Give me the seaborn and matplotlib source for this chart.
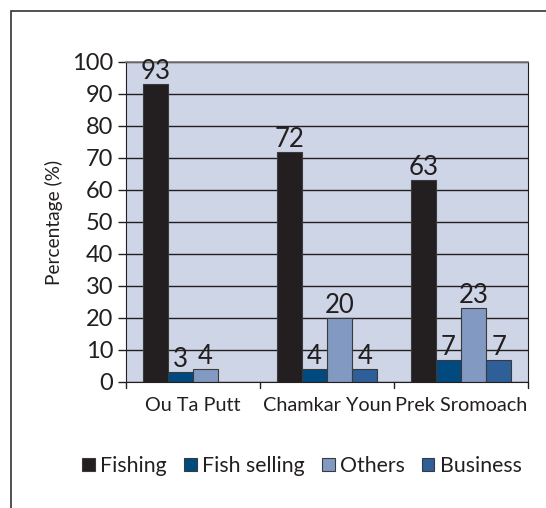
import matplotlib
matplotlib.use("Agg")
import matplotlib.pyplot as plt
import seaborn as sns
import pandas as pd
import numpy as np
from matplotlib.patches import Rectangle

categories = ["Ou Ta Putt", "Chamkar Youn", "Prek Sromoach"]
series = ["Fishing", "Fish selling", "Others", "Business"]
fishing = [93, 72, 63]
fish_selling = [3, 4, 7]
others = [4, 20, 23]
business = [np.nan, 4, 7]
colors = ["#231F20", "#004A80", "#8299C2", "#2E5F98"]
yticks = [0, 10, 20, 30, 40, 50, 60, 70, 80, 90, 100]

rows = []
for name, vals in zip(series, [fishing, fish_selling, others, business]):
    for c, v in zip(categories, vals):
        rows.append({"cat": c, "series": name, "val": v})
df = pd.DataFrame(rows)

sns.set_style("white")
plt.rcParams["font.family"] = ["Lato", "DejaVu Sans"]

fig = plt.figure(figsize=(5.46, 5.08), dpi=100)
fig.patches.append(Rectangle((11 / 546, -0.1), 1.2, (508 - 11) / 508 + 0.1,
                             transform=fig.transFigure, fill=False,
                             edgecolor="#333333", linewidth=1.2))
ax = fig.add_axes([126 / 546, 1 - 382 / 508, (528 - 126) / 546, (382 - 62) / 508])
ax.set_facecolor("#CED5E6")

sns.barplot(data=df, x="cat", y="val", hue="series", hue_order=series,
            order=categories, palette=colors, width=0.75, ax=ax,
            edgecolor="#3a3a3a", linewidth=0.8, saturation=1, legend=True)

for cont in ax.containers:
    labels = ["" if np.isnan(v) else f"{v:.0f}" for v in cont.datavalues]
    ax.bar_label(cont, labels=labels, padding=0, fontsize=18.5, color="#231F20")

ax.set_ylim(0, 100)
ax.set_xlim(-0.5, 2.5)
ax.set_yticks(yticks)
ax.set_yticklabels([str(t) for t in yticks], fontsize=17, color="#231F20")
ax.yaxis.grid(True, color="#231F20", linewidth=1.0)
ax.set_axisbelow(True)
ax.tick_params(axis="y", length=6, width=1, color="#231F20", pad=3, left=True)
ax.set_xticks([0, 1, 2])
ax.set_xticklabels(categories, fontsize=14.3, color="#231F20")
ax.tick_params(axis="x", length=0, pad=11)
for b in [-0.5, 0.5, 1.5, 2.5]:
    ax.plot([b, b], [0, -0.02], transform=ax.get_xaxis_transform(), clip_on=False,
            color="#231F20", linewidth=1)
ax.set_xlabel("")
ax.set_ylabel("Percentage (%)", fontsize=13.8, color="#231F20", labelpad=7)
ax.spines["top"].set_color("#777777")
ax.spines["top"].set_linewidth(1.2)
for s in ["left", "right", "bottom"]:
    ax.spines[s].set_color("#231F20")

handles, labels = ax.get_legend_handles_labels()
ax.get_legend().remove()
fig.legend(handles, labels, loc="center", bbox_to_anchor=(302 / 546, 1 - 466 / 508),
           ncol=4, frameon=False, fontsize=15.3, handlelength=0.6, handleheight=0.6,
           handletextpad=0.25, columnspacing=0.8, labelcolor="#231F20")

fig.savefig("out.png", dpi=100)
